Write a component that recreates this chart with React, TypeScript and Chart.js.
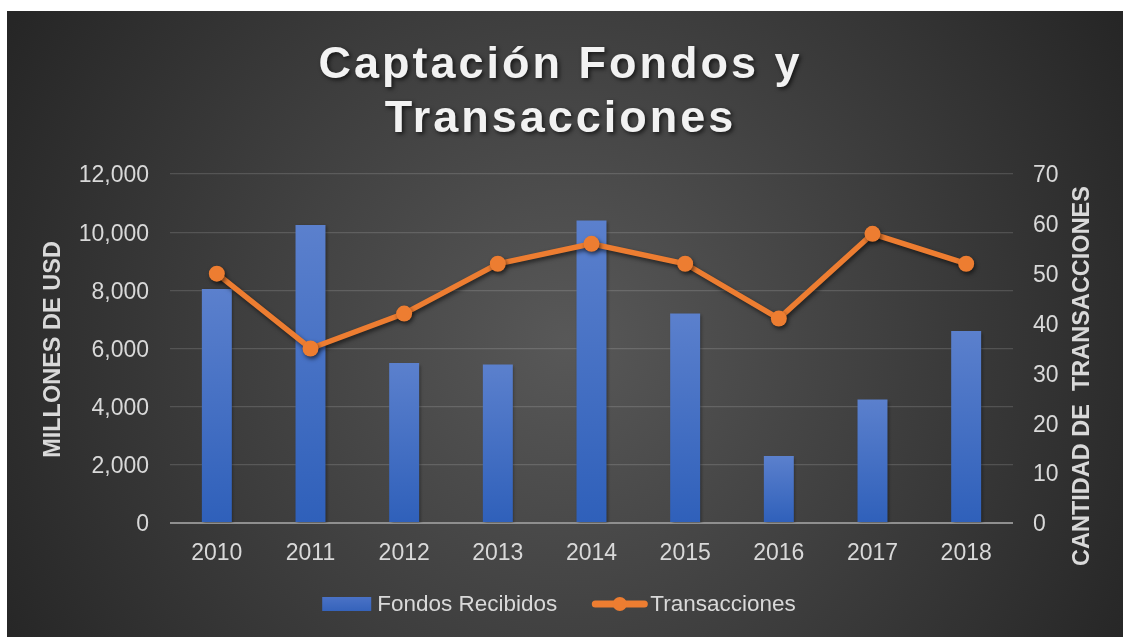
import React, { useEffect, useRef } from "react";
import { Chart, registerables } from "chart.js";

Chart.register(...registerables);

const years = ["2010", "2011", "2012", "2013", "2014", "2015", "2016", "2017", "2018"];
const fondosRecibidos = [8050, 10250, 5500, 5450, 10400, 7200, 2300, 4250, 6600];
const transacciones = [50, 35, 42, 52, 56, 52, 41, 58, 52];
const titleLines = ["Captación Fondos y", "Transacciones"];
const leftAxisTitle = "MILLONES DE USD";
const rightAxisTitle = "CANTIDAD DE  TRANSACCIONES";
const seriesNames = ["Fondos Recibidos", "Transacciones"];

const FONT = '"Liberation Sans", Arial, Helvetica, sans-serif';
const TEXT = "#d9d9d9";
const ORANGE = "#ed7d31";
const W = 1116;
const H = 626;
const CX = 552;

const decorPlugin = {
  id: "decor",
  beforeDraw(chart: any) {
    const ctx = chart.ctx as CanvasRenderingContext2D;
    ctx.save();
    const g = ctx.createRadialGradient(560, 330, 0, 560, 330, 640);
    g.addColorStop(0, "#585858");
    g.addColorStop(1, "#262626");
    ctx.fillStyle = g;
    ctx.fillRect(0, 0, W, H);
    ctx.restore();
  },
  beforeDatasetDraw(chart: any, args: any) {
    const ctx = chart.ctx as CanvasRenderingContext2D;
    ctx.save();
    const isLine = args.meta.type === "line";
    ctx.shadowColor = isLine ? "rgba(0,0,0,0.55)" : "rgba(0,0,0,0.35)";
    ctx.shadowBlur = isLine ? 4 : 3;
    ctx.shadowOffsetX = 1.5;
    ctx.shadowOffsetY = isLine ? 2.5 : 1.5;
  },
  afterDatasetDraw(chart: any) {
    chart.ctx.restore();
  },
  afterDraw(chart: any) {
    const ctx = chart.ctx as CanvasRenderingContext2D;
    // Title
    ctx.save();
    ctx.font = `bold 45px ${FONT}`;
    (ctx as any).letterSpacing = "3px";
    ctx.textAlign = "center";
    ctx.textBaseline = "alphabetic";
    ctx.fillStyle = "#f2f2f2";
    ctx.shadowColor = "rgba(0,0,0,0.65)";
    ctx.shadowBlur = 4;
    ctx.shadowOffsetX = 2;
    ctx.shadowOffsetY = 2;
    ctx.fillText(titleLines[0], CX + 1.5, 67);
    ctx.fillText(titleLines[1], CX + 1.5, 120.5);
    ctx.restore();

    // Axis titles
    ctx.save();
    ctx.font = `bold 23.5px ${FONT}`;
    ctx.fillStyle = TEXT;
    ctx.textAlign = "center";
    ctx.textBaseline = "middle";
    ctx.save();
    ctx.translate(47, 338.5);
    ctx.rotate(-Math.PI / 2);
    ctx.fillText(leftAxisTitle, 0, 0);
    ctx.restore();
    ctx.save();
    ctx.translate(1076, 365);
    ctx.rotate(-Math.PI / 2);
    ctx.fillText(rightAxisTitle, 0, 0);
    ctx.restore();
    ctx.restore();

    // Legend
    ctx.save();
    ctx.font = `22.5px ${FONT}`;
    ctx.textBaseline = "alphabetic";
    ctx.textAlign = "left";
    const w1 = ctx.measureText(seriesNames[0]).width;
    const w2 = ctx.measureText(seriesNames[1]).width;
    const boxW = 49, gap1 = 6, gap2 = 35, lineW = 55, gap3 = 3;
    const total = boxW + gap1 + w1 + gap2 + lineW + gap3 + w2;
    let x = CX - total / 2;
    const yMid = 593;
    const base = 600;
    const bg = ctx.createLinearGradient(0, yMid - 7, 0, yMid + 7);
    bg.addColorStop(0, "#4a72c6");
    bg.addColorStop(1, "#3563bb");
    ctx.fillStyle = bg;
    ctx.fillRect(x, yMid - 7, boxW, 14);
    x += boxW + gap1;
    ctx.fillStyle = TEXT;
    ctx.fillText(seriesNames[0], x, base);
    x += w1 + gap2;
    ctx.strokeStyle = ORANGE;
    ctx.lineWidth = 7;
    ctx.lineCap = "round";
    ctx.beginPath();
    ctx.moveTo(x + 3, yMid);
    ctx.lineTo(x + lineW - 3, yMid);
    ctx.stroke();
    ctx.fillStyle = ORANGE;
    ctx.beginPath();
    ctx.arc(x + lineW / 2, yMid, 7, 0, Math.PI * 2);
    ctx.fill();
    x += lineW + gap3;
    ctx.fillStyle = TEXT;
    ctx.fillText(seriesNames[1], x, base);
    ctx.restore();
  },
};

export default function App() {
  const ref = useRef<HTMLCanvasElement | null>(null);

  useEffect(() => {
    document.body.style.margin = "0";
    document.body.style.overflow = "hidden";
    const canvas = ref.current;
    if (!canvas) return;
    const chart = new Chart(canvas, {
      type: "bar",
      data: {
        labels: years,
        datasets: [
          {
            type: "line",
            label: seriesNames[1],
            data: transacciones,
            yAxisID: "y1",
            borderColor: ORANGE,
            backgroundColor: ORANGE,
            borderWidth: 5.5,
            pointRadius: 8,
            pointHoverRadius: 8,
            pointBackgroundColor: ORANGE,
            pointBorderWidth: 0,
            tension: 0,
            order: 0,
          } as any,
          {
            type: "bar",
            label: seriesNames[0],
            data: fondosRecibidos,
            yAxisID: "y",
            barPercentage: 0.32,
            categoryPercentage: 1,
            order: 1,
            backgroundColor: (c: any) => {
              const ch = c.chart;
              if (!ch.chartArea || c.raw === undefined) return "#4472c4";
              const top = ch.scales.y.getPixelForValue(c.raw);
              const bot = ch.scales.y.getPixelForValue(0);
              const g = ch.ctx.createLinearGradient(0, top, 0, bot);
              g.addColorStop(0, "#5b80cd");
              g.addColorStop(1, "#2f60ba");
              return g;
            },
          } as any,
        ],
      },
      options: {
        responsive: false,
        animation: false,
        devicePixelRatio: 1,
        layout: { padding: { top: 163, left: 0, right: 0, bottom: 0 } },
        plugins: {
          legend: { display: false },
          title: { display: false },
          tooltip: { enabled: false },
        },
        scales: {
          x: {
            grid: { display: false },
            border: { display: false },
            ticks: { color: TEXT, font: { family: FONT, size: 23 }, padding: 9 },
            afterFit: (s: any) => {
              s.height = 114;
            },
          },
          y: {
            position: "left",
            min: 0,
            max: 12000,
            ticks: {
              stepSize: 2000,
              color: TEXT,
              font: { family: FONT, size: 23 },
              padding: 21,
              labelOffset: 2,
              callback: (v: any) => Number(v).toLocaleString("en-US"),
            },
            grid: {
              drawTicks: false,
              color: (c: any) => (c.tick && c.tick.value === 0 ? "#8f8f8f" : "rgba(255,255,255,0.14)"),
              lineWidth: (c: any) => (c.tick && c.tick.value === 0 ? 2 : 1.3),
            },
            border: { display: false },
            afterFit: (s: any) => {
              s.width = 163;
            },
          },
          y1: {
            position: "right",
            min: 0,
            max: 70,
            ticks: {
              stepSize: 10,
              color: TEXT,
              font: { family: FONT, size: 23 },
              padding: 20,
              labelOffset: 2,
            },
            grid: { display: false, drawTicks: false },
            border: { display: false },
            afterFit: (s: any) => {
              s.width = 110;
            },
          },
        },
      } as any,
      plugins: [decorPlugin],
    });
    return () => chart.destroy();
  }, []);

  return (
    <div style={{ position: "fixed", left: 7, top: 11, width: W, height: H }}>
      <canvas ref={ref} width={W} height={H} style={{ width: W, height: H, display: "block" }} />
    </div>
  );
}
